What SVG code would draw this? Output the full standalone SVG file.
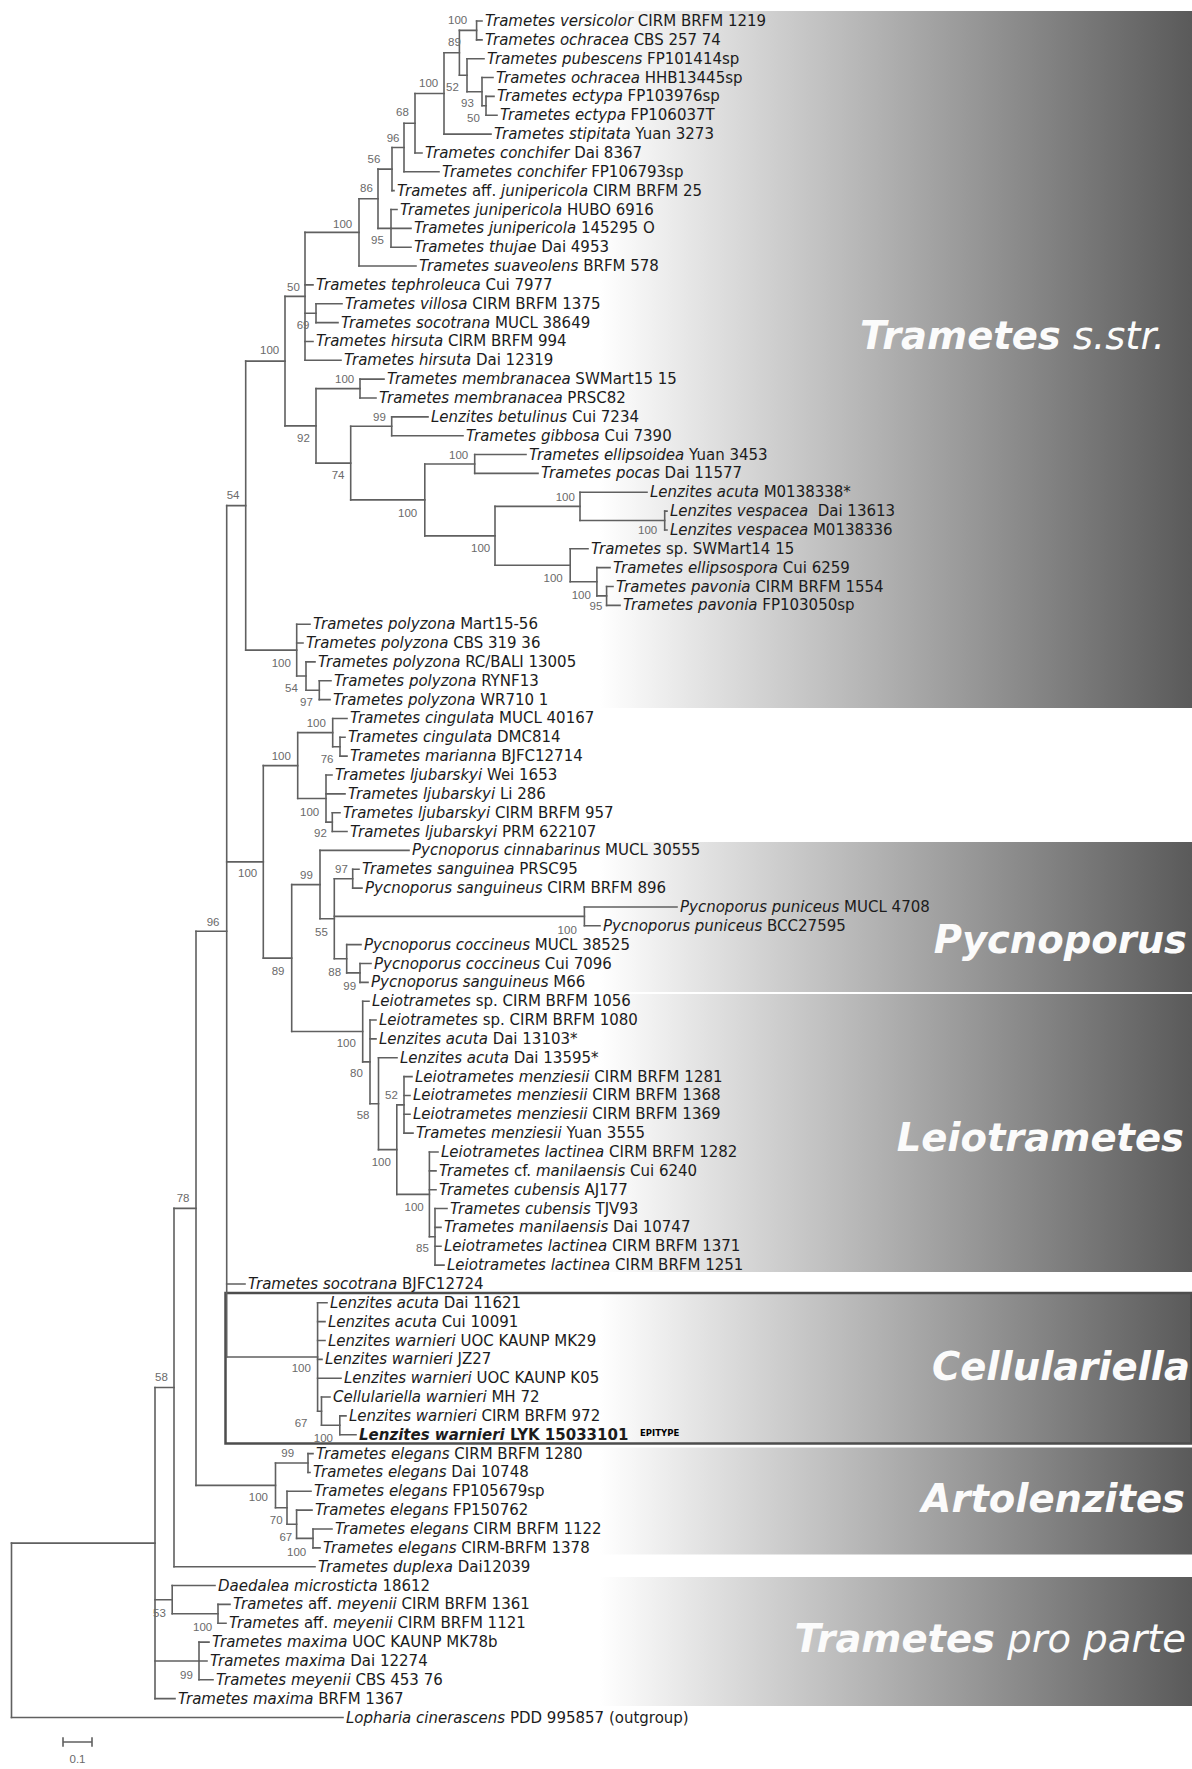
<svg xmlns="http://www.w3.org/2000/svg" width="1192" height="1769" viewBox="0 0 1192 1769">
<defs>
<linearGradient id="band" gradientUnits="userSpaceOnUse" x1="600" y1="0" x2="1192" y2="0">
<stop offset="0" stop-color="#ffffff"/>
<stop offset="1" stop-color="#5a5a5a"/>
</linearGradient>
<style>
.t{font-family:"DejaVu Sans","Liberation Sans",sans-serif;font-size:15px;fill:#1c1c1c}
.i{font-style:italic}
.bs text{font-family:"Liberation Sans",Arial,sans-serif;font-size:11.5px;fill:#6a6a6a}
.cl{font-family:"DejaVu Sans","Liberation Sans",sans-serif;font-size:38.5px;fill:#fbfbfb;font-style:italic;font-weight:bold}
.br{fill:none;stroke:#606060;stroke-width:1.6;stroke-linecap:square}
</style>
</defs>
<rect width="1192" height="1769" fill="#ffffff"/>
<g id="bands">
<rect x="560" y="11" width="632" height="697" fill="url(#band)"/>
<rect x="560" y="842" width="632" height="150" fill="url(#band)"/>
<rect x="560" y="994" width="632" height="278" fill="url(#band)"/>
<rect x="560" y="1293" width="632" height="150.5" fill="url(#band)"/>
<rect x="560" y="1447.5" width="632" height="107" fill="url(#band)"/>
<rect x="560" y="1577" width="632" height="129" fill="url(#band)"/>
<rect id="cellulariella-box" x="225.5" y="1293" width="966" height="150.5" fill="none" stroke="#4d4d4d" stroke-width="2.5"/>
</g>
<g id="clade-labels">
<g id="clade-trametes-sstr"><text class="cl" x="1165" y="349" text-anchor="end">Trametes<tspan font-weight="normal"> s.str.</tspan></text></g>
<g id="clade-pycnoporus"><text class="cl" x="1187" y="952.5" text-anchor="end">Pycnoporus</text></g>
<g id="clade-leiotrametes"><text class="cl" x="1184" y="1150.5" text-anchor="end">Leiotrametes</text></g>
<g id="clade-cellulariella"><text class="cl" x="1190" y="1380" text-anchor="end">Cellulariella</text></g>
<g id="clade-artolenzites"><text class="cl" x="1185" y="1512" text-anchor="end">Artolenzites</text></g>
<g id="clade-trametes-pro-parte"><text class="cl" x="1186" y="1652" text-anchor="end">Trametes<tspan font-weight="normal"> pro parte</tspan></text></g>
</g>
<g id="connectors">
<path class="br" d="M476.6 21V39.85M486 96.4V115.25M482 77.55V105.8M467 58.7V91.7M459.4 30.4V75.2M444 52.8V134.1M415 93.45V152.95M404 123.2V171.8M392 147.5V190.65M391 209.5V247.2M378 169.1V228.35M359 198.7V266.05M316 303.75V322.6M305 232.4V360.3M360 379.15V398M391.7 416.85V435.7M474.7 454.55V473.4M664.7 511.1V529.95M580 492.25V520.5M606.6 586.5V605.35M596.9 567.65V595.9M570.2 548.8V581.8M495 506.4V565.3M424.8 464V535.85M350.7 426.3V499.9M316 388.6V463.1M285 296.35V425.85M319.3 680.75V699.6M306 661.9V690.2M296.7 624.2V676.05M245.7 361.1V650.1"/>
<path class="br" d="M340 737.3V756.15M332.7 718.45V746.7M332.3 812.7V831.55M326 775V822.1M297.7 732.6V798.55M352.7 869.25V888.1M584.4 906.95V925.8M360 963.5V982.35M346.7 944.65V972.9M334.3 878.7V958.8M320 850.4V918.75M404 1076.6V1133.15M435 1208.55V1265.1M429.4 1152V1236.8M396.8 1104.9V1194.4M378.5 1057.75V1149.65M370 1020.05V1103.7M362.7 1001.2V1061.9M291.7 884.6V1031.55M263.3 765.6V958.1M339.8 1415.9V1434.75M321.5 1397.05V1425.3M317.6 1302.8V1411.2M226.7 505.6V1357M308 1453.6V1472.45M313 1529V1547.85M296.6 1510.15V1538.4M287 1491.3V1524.3M275.5 1463V1507.8M196 931.3V1485.4M174 1208.35V1566.7M218 1604.4V1623.25M172.2 1585.55V1613.8M199 1642.1V1679.8M155 1387.5V1698.65M11.5 1543.1V1717.5"/>
<path class="br" d="M476.6 21H482M476.6 39.85H482M467 58.7H484M482 77.55H493M486 96.4H494M486 115.25H497M444 134.1H491M415 152.95H422M404 171.8H439M392 190.65H394M391 209.5H397M391 228.35H411M391 247.2H411M359 266.05H416M305 284.9H313M316 303.75H342M316 322.6H338M305 341.45H313M305 360.3H341M360 379.15H384M360 398H376M391.7 416.85H428M391.7 435.7H463M474.7 454.55H526M474.7 473.4H538M580 492.25H647M664.7 511.1H667M664.7 529.95H667M570.2 548.8H588M596.9 567.65H610M606.6 586.5H613M606.6 605.35H620M296.7 624.2H310M296.7 643.05H303M306 661.9H315M319.3 680.75H331M319.3 699.6H330"/>
<path class="br" d="M332.7 718.45H347M340 737.3H345M340 756.15H347M326 775H332M326 793.85H345M332.3 812.7H340M332.3 831.55H347M320 850.4H409M352.7 869.25H359M352.7 888.1H362M584.4 906.95H677M584.4 925.8H600M346.7 944.65H361M360 963.5H371M360 982.35H368M362.7 1001.2H369M370 1020.05H376M370 1038.9H376M378.5 1057.75H397M404 1076.6H412M404 1095.45H410M404 1114.3H410M404 1133.15H413M429.4 1152H438M429.4 1170.85H436M429.4 1189.7H436M435 1208.55H447M435 1227.4H441M435 1246.25H441M435 1265.1H444M226.7 1283.95H245"/>
<path class="br" d="M317.6 1302.8H327M317.6 1321.65H325M317.6 1340.5H325M317.6 1359.35H322M317.6 1378.2H341M321.5 1397.05H330M339.8 1415.9H346M339.8 1434.75H356M308 1453.6H313M308 1472.45H310M287 1491.3H311M296.6 1510.15H312M313 1529H332M313 1547.85H320M174 1566.7H315M172.2 1585.55H215M218 1604.4H230M218 1623.25H226M199 1642.1H209M199 1660.95H207M199 1679.8H213M155 1698.65H175M11.5 1717.5H343"/>
<path class="br" d="M459.4 30.4H476.6M482 105.8H486M467 91.7H482M459.4 75.2H467M444 52.8H459.4M415 93.45H444M404 123.2H415M392 147.5H404M378 169.1H392M378 228.35H391M359 198.7H378M305 232.4H359M305 313.2H316M285 296.35H305M316 388.6H360M350.7 426.3H391.7M424.8 464H474.7M580 520.5H664.7M495 506.4H580M596.9 595.9H606.6M570.2 581.8H596.9M495 565.3H570.2M424.8 535.85H495M350.7 499.9H424.8M316 463.1H350.7M285 425.85H316M245.7 361.1H285M306 690.2H319.3M296.7 676.05H306M245.7 650.1H296.7M226.7 505.6H245.7"/>
<path class="br" d="M332.7 746.7H340M297.7 732.6H332.7M326 822.1H332.3M297.7 798.55H326M263.3 765.6H297.7M334.3 878.7H352.7M334.3 916.4H584.4M346.7 972.9H360M334.3 958.8H346.7M320 918.75H334.3M291.7 884.6H320M396.8 1104.9H404M429.4 1236.8H435M396.8 1194.4H429.4M378.5 1149.65H396.8M370 1103.7H378.5M362.7 1061.9H370M291.7 1031.55H362.7M263.3 958.1H291.7M226.7 861.85H263.3M321.5 1425.3H339.8M317.6 1411.2H321.5M226.7 1357H317.6M196 931.3H226.7M275.5 1463H308M296.6 1538.4H313M287 1524.3H296.6M275.5 1507.8H287M196 1485.4H275.5M174 1208.35H196M155 1387.5H174M172.2 1613.8H218M155 1599.7H172.2M155 1660.95H199M11.5 1543.1H155"/>
</g>
<g id="support-values" class="bs">
<text x="448" y="24">100</text><text x="448" y="46">89</text><text x="419" y="87">100</text><text x="446" y="91">52</text><text x="461" y="107">93</text><text x="467" y="122">50</text><text x="396" y="116">68</text><text x="386.7" y="142">96</text><text x="367.5" y="163">56</text><text x="360" y="192">86</text><text x="333" y="228">100</text><text x="371" y="244">95</text><text x="287" y="291">50</text><text x="296.7" y="329">69</text><text x="260" y="354">100</text><text x="335" y="383">100</text><text x="373" y="421">99</text><text x="297" y="442">92</text><text x="331.7" y="479">74</text><text x="226.7" y="499">54</text><text x="449" y="459">100</text><text x="398" y="517">100</text><text x="555.7" y="501">100</text><text x="638" y="534">100</text><text x="471" y="552">100</text><text x="543.5" y="582">100</text><text x="571.7" y="599">100</text><text x="589.6" y="610">95</text><text x="271.7" y="667">100</text><text x="285" y="692">54</text><text x="300" y="706">97</text><text x="306.7" y="727">100</text><text x="320.7" y="763">76</text><text x="271.7" y="760">100</text><text x="300" y="816">100</text><text x="314" y="837">92</text><text x="238" y="877">100</text><text x="300" y="879">99</text><text x="335" y="873">97</text><text x="206.7" y="926">96</text><text x="315" y="936">55</text><text x="557.6" y="934">100</text><text x="271.7" y="975">89</text><text x="328.3" y="976">88</text><text x="343.3" y="990">99</text><text x="336.7" y="1047">100</text><text x="350" y="1077">80</text><text x="385" y="1099">52</text><text x="356.7" y="1119">58</text><text x="371.7" y="1166">100</text><text x="404.5" y="1211">100</text><text x="416" y="1252">85</text><text x="176.7" y="1202">78</text><text x="291.7" y="1372">100</text><text x="155" y="1381">58</text><text x="294.7" y="1427">67</text><text x="313.8" y="1442">100</text><text x="281.3" y="1457">99</text><text x="248.8" y="1501">100</text><text x="269.8" y="1524">70</text><text x="279.4" y="1541">67</text><text x="287" y="1556">100</text><text x="153" y="1617">53</text><text x="193" y="1631">100</text><text x="180" y="1679">99</text>
</g>
<g id="taxa">
<g id="tip-01"><text class="t" x="485" y="26"><tspan class="i">Trametes versicolor</tspan> CIRM BRFM 1219</text></g>
<g id="tip-02"><text class="t" x="485" y="44.85"><tspan class="i">Trametes ochracea</tspan> CBS 257 74</text></g>
<g id="tip-03"><text class="t" x="487" y="63.7"><tspan class="i">Trametes pubescens</tspan> FP101414sp</text></g>
<g id="tip-04"><text class="t" x="496" y="82.55"><tspan class="i">Trametes ochracea</tspan> HHB13445sp</text></g>
<g id="tip-05"><text class="t" x="497" y="101.4"><tspan class="i">Trametes ectypa</tspan> FP103976sp</text></g>
<g id="tip-06"><text class="t" x="500" y="120.25"><tspan class="i">Trametes ectypa</tspan> FP106037T</text></g>
<g id="tip-07"><text class="t" x="494" y="139.1"><tspan class="i">Trametes stipitata</tspan> Yuan 3273</text></g>
<g id="tip-08"><text class="t" x="425" y="157.95"><tspan class="i">Trametes conchifer</tspan> Dai 8367</text></g>
<g id="tip-09"><text class="t" x="442" y="176.8"><tspan class="i">Trametes conchifer</tspan> FP106793sp</text></g>
<g id="tip-10"><text class="t" x="397" y="195.65"><tspan class="i">Trametes</tspan> aff. <tspan class="i">junipericola</tspan> CIRM BRFM 25</text></g>
<g id="tip-11"><text class="t" x="400" y="214.5"><tspan class="i">Trametes junipericola</tspan> HUBO 6916</text></g>
<g id="tip-12"><text class="t" x="414" y="233.35"><tspan class="i">Trametes junipericola</tspan> 145295 O</text></g>
<g id="tip-13"><text class="t" x="414" y="252.2"><tspan class="i">Trametes thujae</tspan> Dai 4953</text></g>
<g id="tip-14"><text class="t" x="419" y="271.05"><tspan class="i">Trametes suaveolens</tspan> BRFM 578</text></g>
<g id="tip-15"><text class="t" x="316" y="289.9"><tspan class="i">Trametes tephroleuca</tspan> Cui 7977</text></g>
<g id="tip-16"><text class="t" x="345" y="308.75"><tspan class="i">Trametes villosa</tspan> CIRM BRFM 1375</text></g>
<g id="tip-17"><text class="t" x="341" y="327.6"><tspan class="i">Trametes socotrana</tspan> MUCL 38649</text></g>
<g id="tip-18"><text class="t" x="316" y="346.45"><tspan class="i">Trametes hirsuta</tspan> CIRM BRFM 994</text></g>
<g id="tip-19"><text class="t" x="344" y="365.3"><tspan class="i">Trametes hirsuta</tspan> Dai 12319</text></g>
<g id="tip-20"><text class="t" x="387" y="384.15"><tspan class="i">Trametes membranacea</tspan> SWMart15 15</text></g>
<g id="tip-21"><text class="t" x="379" y="403"><tspan class="i">Trametes membranacea</tspan> PRSC82</text></g>
<g id="tip-22"><text class="t" x="431" y="421.85"><tspan class="i">Lenzites betulinus</tspan> Cui 7234</text></g>
<g id="tip-23"><text class="t" x="466" y="440.7"><tspan class="i">Trametes gibbosa</tspan> Cui 7390</text></g>
<g id="tip-24"><text class="t" x="529" y="459.55"><tspan class="i">Trametes ellipsoidea</tspan> Yuan 3453</text></g>
<g id="tip-25"><text class="t" x="541" y="478.4"><tspan class="i">Trametes pocas</tspan> Dai 11577</text></g>
<g id="tip-26"><text class="t" x="650" y="497.25"><tspan class="i">Lenzites acuta</tspan> M0138338*</text></g>
<g id="tip-27"><text class="t" x="670" y="516.1"><tspan class="i">Lenzites vespacea</tspan> &#160;Dai 13613</text></g>
<g id="tip-28"><text class="t" x="670" y="534.95"><tspan class="i">Lenzites vespacea</tspan> M0138336</text></g>
<g id="tip-29"><text class="t" x="591" y="553.8"><tspan class="i">Trametes</tspan> sp. SWMart14 15</text></g>
<g id="tip-30"><text class="t" x="613" y="572.65"><tspan class="i">Trametes ellipsospora</tspan> Cui 6259</text></g>
<g id="tip-31"><text class="t" x="616" y="591.5"><tspan class="i">Trametes pavonia</tspan> CIRM BRFM 1554</text></g>
<g id="tip-32"><text class="t" x="623" y="610.35"><tspan class="i">Trametes pavonia</tspan> FP103050sp</text></g>
<g id="tip-33"><text class="t" x="313" y="629.2"><tspan class="i">Trametes polyzona</tspan> Mart15-56</text></g>
<g id="tip-34"><text class="t" x="306" y="648.05"><tspan class="i">Trametes polyzona</tspan> CBS 319 36</text></g>
<g id="tip-35"><text class="t" x="318" y="666.9"><tspan class="i">Trametes polyzona</tspan> RC/BALI 13005</text></g>
<g id="tip-36"><text class="t" x="334" y="685.75"><tspan class="i">Trametes polyzona</tspan> RYNF13</text></g>
<g id="tip-37"><text class="t" x="333" y="704.6"><tspan class="i">Trametes polyzona</tspan> WR710 1</text></g>
<g id="tip-38"><text class="t" x="350" y="723.45"><tspan class="i">Trametes cingulata</tspan> MUCL 40167</text></g>
<g id="tip-39"><text class="t" x="348" y="742.3"><tspan class="i">Trametes cingulata</tspan> DMC814</text></g>
<g id="tip-40"><text class="t" x="350" y="761.15"><tspan class="i">Trametes marianna</tspan> BJFC12714</text></g>
<g id="tip-41"><text class="t" x="335" y="780"><tspan class="i">Trametes ljubarskyi</tspan> Wei 1653</text></g>
<g id="tip-42"><text class="t" x="348" y="798.85"><tspan class="i">Trametes ljubarskyi</tspan> Li 286</text></g>
<g id="tip-43"><text class="t" x="343" y="817.7"><tspan class="i">Trametes ljubarskyi</tspan> CIRM BRFM 957</text></g>
<g id="tip-44"><text class="t" x="350" y="836.55"><tspan class="i">Trametes ljubarskyi</tspan> PRM 622107</text></g>
<g id="tip-45"><text class="t" x="412" y="855.4"><tspan class="i">Pycnoporus cinnabarinus</tspan> MUCL 30555</text></g>
<g id="tip-46"><text class="t" x="362" y="874.25"><tspan class="i">Trametes sanguinea</tspan> PRSC95</text></g>
<g id="tip-47"><text class="t" x="365" y="893.1"><tspan class="i">Pycnoporus sanguineus</tspan> CIRM BRFM 896</text></g>
<g id="tip-48"><text class="t" x="680" y="911.95"><tspan class="i">Pycnoporus puniceus</tspan> MUCL 4708</text></g>
<g id="tip-49"><text class="t" x="603" y="930.8"><tspan class="i">Pycnoporus puniceus</tspan> BCC27595</text></g>
<g id="tip-50"><text class="t" x="364" y="949.65"><tspan class="i">Pycnoporus coccineus</tspan> MUCL 38525</text></g>
<g id="tip-51"><text class="t" x="374" y="968.5"><tspan class="i">Pycnoporus coccineus</tspan> Cui 7096</text></g>
<g id="tip-52"><text class="t" x="371" y="987.35"><tspan class="i">Pycnoporus sanguineus</tspan> M66</text></g>
<g id="tip-53"><text class="t" x="372" y="1006.2"><tspan class="i">Leiotrametes</tspan> sp. CIRM BRFM 1056</text></g>
<g id="tip-54"><text class="t" x="379" y="1025.05"><tspan class="i">Leiotrametes</tspan> sp. CIRM BRFM 1080</text></g>
<g id="tip-55"><text class="t" x="379" y="1043.9"><tspan class="i">Lenzites acuta</tspan> Dai 13103*</text></g>
<g id="tip-56"><text class="t" x="400" y="1062.75"><tspan class="i">Lenzites acuta</tspan> Dai 13595*</text></g>
<g id="tip-57"><text class="t" x="415" y="1081.6"><tspan class="i">Leiotrametes menziesii</tspan> CIRM BRFM 1281</text></g>
<g id="tip-58"><text class="t" x="413" y="1100.45"><tspan class="i">Leiotrametes menziesii</tspan> CIRM BRFM 1368</text></g>
<g id="tip-59"><text class="t" x="413" y="1119.3"><tspan class="i">Leiotrametes menziesii</tspan> CIRM BRFM 1369</text></g>
<g id="tip-60"><text class="t" x="416" y="1138.15"><tspan class="i">Trametes menziesii</tspan> Yuan 3555</text></g>
<g id="tip-61"><text class="t" x="441" y="1157"><tspan class="i">Leiotrametes lactinea</tspan> CIRM BRFM 1282</text></g>
<g id="tip-62"><text class="t" x="439" y="1175.85"><tspan class="i">Trametes</tspan> cf. <tspan class="i">manilaensis</tspan> Cui 6240</text></g>
<g id="tip-63"><text class="t" x="439" y="1194.7"><tspan class="i">Trametes cubensis</tspan> AJ177</text></g>
<g id="tip-64"><text class="t" x="450" y="1213.55"><tspan class="i">Trametes cubensis</tspan> TJV93</text></g>
<g id="tip-65"><text class="t" x="444" y="1232.4"><tspan class="i">Trametes manilaensis</tspan> Dai 10747</text></g>
<g id="tip-66"><text class="t" x="444" y="1251.25"><tspan class="i">Leiotrametes lactinea</tspan> CIRM BRFM 1371</text></g>
<g id="tip-67"><text class="t" x="447" y="1270.1"><tspan class="i">Leiotrametes lactinea</tspan> CIRM BRFM 1251</text></g>
<g id="tip-68"><text class="t" x="248" y="1288.95"><tspan class="i">Trametes socotrana</tspan> BJFC12724</text></g>
<g id="tip-69"><text class="t" x="330" y="1307.8"><tspan class="i">Lenzites acuta</tspan> Dai 11621</text></g>
<g id="tip-70"><text class="t" x="328" y="1326.65"><tspan class="i">Lenzites acuta</tspan> Cui 10091</text></g>
<g id="tip-71"><text class="t" x="328" y="1345.5"><tspan class="i">Lenzites warnieri</tspan> UOC KAUNP MK29</text></g>
<g id="tip-72"><text class="t" x="325" y="1364.35"><tspan class="i">Lenzites warnieri</tspan> JZ27</text></g>
<g id="tip-73"><text class="t" x="344" y="1383.2"><tspan class="i">Lenzites warnieri</tspan> UOC KAUNP K05</text></g>
<g id="tip-74"><text class="t" x="333" y="1402.05"><tspan class="i">Cellulariella warnieri</tspan> MH 72</text></g>
<g id="tip-75"><text class="t" x="349" y="1420.9"><tspan class="i">Lenzites warnieri</tspan> CIRM BRFM 972</text></g>
<g id="tip-76"><text class="t" x="359" y="1439.75" font-weight="bold" fill="#000"><tspan class="i">Lenzites warnieri</tspan> LYK 15033101</text><text x="640" y="1436" font-family="DejaVu Sans, sans-serif" font-size="8.5" font-weight="bold" fill="#000">EPITYPE</text></g>
<g id="tip-77"><text class="t" x="316" y="1458.6"><tspan class="i">Trametes elegans</tspan> CIRM BRFM 1280</text></g>
<g id="tip-78"><text class="t" x="313" y="1477.45"><tspan class="i">Trametes elegans</tspan> Dai 10748</text></g>
<g id="tip-79"><text class="t" x="314" y="1496.3"><tspan class="i">Trametes elegans</tspan> FP105679sp</text></g>
<g id="tip-80"><text class="t" x="315" y="1515.15"><tspan class="i">Trametes elegans</tspan> FP150762</text></g>
<g id="tip-81"><text class="t" x="335" y="1534"><tspan class="i">Trametes elegans</tspan> CIRM BRFM 1122</text></g>
<g id="tip-82"><text class="t" x="323" y="1552.85"><tspan class="i">Trametes elegans</tspan> CIRM-BRFM 1378</text></g>
<g id="tip-83"><text class="t" x="318" y="1571.7"><tspan class="i">Trametes duplexa</tspan> Dai12039</text></g>
<g id="tip-84"><text class="t" x="218" y="1590.55"><tspan class="i">Daedalea microsticta</tspan> 18612</text></g>
<g id="tip-85"><text class="t" x="233" y="1609.4"><tspan class="i">Trametes</tspan> aff. <tspan class="i">meyenii</tspan> CIRM BRFM 1361</text></g>
<g id="tip-86"><text class="t" x="229" y="1628.25"><tspan class="i">Trametes</tspan> aff. <tspan class="i">meyenii</tspan> CIRM BRFM 1121</text></g>
<g id="tip-87"><text class="t" x="212" y="1647.1"><tspan class="i">Trametes maxima</tspan> UOC KAUNP MK78b</text></g>
<g id="tip-88"><text class="t" x="210" y="1665.95"><tspan class="i">Trametes maxima</tspan> Dai 12274</text></g>
<g id="tip-89"><text class="t" x="216" y="1684.8"><tspan class="i">Trametes meyenii</tspan> CBS 453 76</text></g>
<g id="tip-90"><text class="t" x="178" y="1703.65"><tspan class="i">Trametes maxima</tspan> BRFM 1367</text></g>
<g id="tip-91"><text class="t" x="346" y="1722.5"><tspan class="i">Lopharia cinerascens</tspan> PDD 995857 (outgroup)</text></g>
</g>
<g id="scale-bar">
<path class="br" d="M63 1742H92M63 1738V1746M92 1738V1746"/>
<text x="77.5" y="1763" text-anchor="middle" font-family="Liberation Sans, Arial, sans-serif" font-size="11.5" fill="#6a6a6a">0.1</text>
</g>
</svg>
